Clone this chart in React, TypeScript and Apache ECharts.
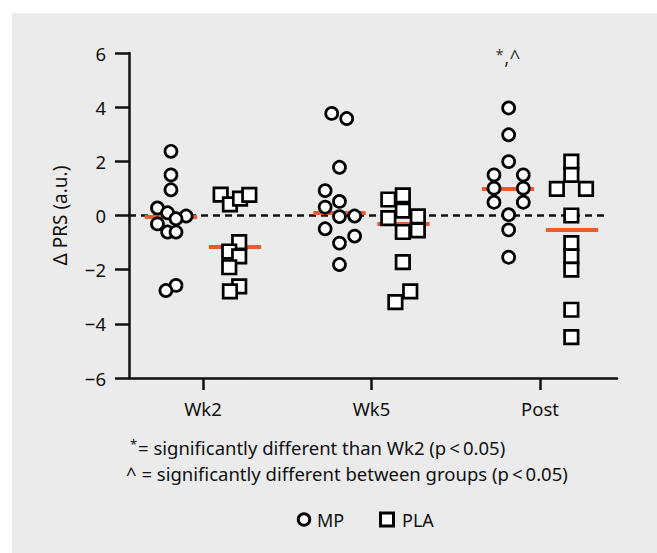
import React, { useEffect, useRef } from "react";
import * as echarts from "echarts";

// ---- data ----
const CATEGORIES = ["Wk2", "Wk5", "Post"];

const MP_WK2 = [2.37, 1.5, 0.95, 0.28, 0.1, -0.02, -0.12, -0.31, -0.61, -0.61, -2.58, -2.77];
const MP_WK2_JITTER = [-0.19, -0.19, -0.19, -0.27, -0.21, -0.1, -0.16, -0.27, -0.21, -0.16, -0.16, -0.22];
const MP_WK5 = [3.77, 3.58, 1.78, 0.92, 0.52, 0.31, -0.04, -0.02, -0.49, -0.76, -1.02, -1.81];
const MP_WK5_JITTER = [-0.236, -0.147, -0.19, -0.275, -0.19, -0.275, -0.19, -0.1, -0.275, -0.1, -0.19, -0.19];
const MP_POST = [3.97, 2.98, 1.99, 1.5, 1.5, 1.01, 1.01, 0.49, 0.49, 0.03, -0.53, -1.54];
const MP_POST_JITTER = [-0.186, -0.186, -0.186, -0.273, -0.099, -0.273, -0.099, -0.273, -0.099, -0.186, -0.186, -0.186];

const PLA_WK2 = [0.77, 0.41, 0.62, 0.76, -0.98, -1.33, -1.51, -1.91, -2.62, -2.8];
const PLA_WK2_JITTER = [0.105, 0.16, 0.22, 0.275, 0.215, 0.156, 0.215, 0.156, 0.215, 0.16];
const PLA_WK5 = [0.59, 0.74, 0.18, -0.1, -0.03, -0.61, -0.55, -1.72, -2.8, -3.2];
const PLA_WK5_JITTER = [0.1, 0.186, 0.186, 0.1, 0.275, 0.186, 0.275, 0.186, 0.23, 0.142];
const PLA_POST = [1.99, 1.5, 0.98, 0.98, 0.0, -1.02, -1.51, -2.0, -3.48, -4.49];
const PLA_POST_JITTER = [0.186, 0.186, 0.1, 0.273, 0.186, 0.186, 0.186, 0.186, 0.186, 0.186];

const MP_MEDIANS = [-0.06, 0.12, 0.98];
const PLA_MEDIANS = [-1.16, -0.31, -0.53];

const Y_TICKS = [-6, -4, -2, 0, 2, 4, 6];

const FOOTNOTES = [
  "= significantly different than Wk2 (p\u2009<\u20090.05)",
  "^ = significantly different between groups (p\u2009<\u20090.05)",
];
const LEGEND = ["MP", "PLA"];

const FONT = "Noto Sans";
const INK = "#111111";
const RED = "#eb5b30";

const MP_GROUPS = [
  [MP_WK2, MP_WK2_JITTER],
  [MP_WK5, MP_WK5_JITTER],
  [MP_POST, MP_POST_JITTER],
];
const PLA_GROUPS = [
  [PLA_WK2, PLA_WK2_JITTER],
  [PLA_WK5, PLA_WK5_JITTER],
  [PLA_POST, PLA_POST_JITTER],
];

function toPoints(groups: number[][][]) {
  const out: number[][] = [];
  groups.forEach(([vals, jit], gi) => {
    vals.forEach((v, i) => out.push([gi + 1 + jit[i], v]));
  });
  return out;
}

export default function App() {
  const ref = useRef<HTMLDivElement>(null);

  useEffect(() => {
    if (!ref.current) return;
    const chart = echarts.init(ref.current, undefined, { renderer: "svg" });

    const medianSegs: any[] = [];
    const HALF = 0.155;
    const OFF = 0.19;
    MP_MEDIANS.forEach((m, i) => {
      const c = i + 1 - OFF;
      medianSegs.push([{ coord: [c - HALF, m] }, { coord: [c + HALF, m] }]);
    });
    PLA_MEDIANS.forEach((m, i) => {
      const c = i + 1 + OFF;
      medianSegs.push([{ coord: [c - HALF, m] }, { coord: [c + HALF, m] }]);
    });

    const markerStyle = { fill: "#ffffff", stroke: "#000000", lineWidth: 3 };

    const option: any = {
      animation: false,
      backgroundColor: "#ffffff",
      textStyle: { fontFamily: FONT, color: INK },
      graphic: [
        {
          type: "rect",
          z: -10,
          silent: true,
          shape: { x: 12, y: 13, width: 657, height: 553 },
          style: { fill: "#ebebeb" },
        },
        {
          type: "text",
          x: 130,
          y: 444,
          style: {
            text: "*",
            font: `13px "${FONT}"`,
            fill: INK,
            verticalAlign: "middle",
          },
        },
        {
          type: "text",
          x: 138,
          y: 447,
          style: {
            text: FOOTNOTES[0],
            font: `18.5px "${FONT}"`,
            fill: INK,
            verticalAlign: "middle",
          },
        },
        {
          type: "text",
          x: 126,
          y: 473,
          style: {
            text: FOOTNOTES[1],
            font: `18.5px "${FONT}"`,
            fill: INK,
            verticalAlign: "middle",
          },
        },
        // legend
        {
          type: "circle",
          shape: { cx: 304, cy: 519.5, r: 5.7 },
          style: markerStyle,
        },
        {
          type: "text",
          x: 317,
          y: 519.5,
          style: { text: LEGEND[0], font: `18px "${FONT}"`, fill: INK, verticalAlign: "middle" },
        },
        {
          type: "rect",
          shape: { x: 380.5, y: 513, width: 13, height: 13 },
          style: markerStyle,
        },
        {
          type: "text",
          x: 402,
          y: 519.5,
          style: { text: LEGEND[1], font: `18px "${FONT}"`, fill: INK, verticalAlign: "middle" },
        },
      ],
      grid: { left: 129, right: 40, top: 53, bottom: 175 },
      xAxis: {
        type: "value",
        min: 0.561,
        max: 3.457,
        splitLine: { show: false },
        axisLine: { show: true, onZero: false, lineStyle: { color: INK, width: 2.5 } },
        axisTick: { show: true, length: 12, customValues: [1, 2, 3], lineStyle: { color: INK, width: 2.5 } },
        axisLabel: {
          customValues: [1, 2, 3],
          margin: 21,
          fontSize: 18.5,
          fontFamily: FONT,
          color: INK,
          formatter: (v: number) => CATEGORIES[Math.round(v) - 1] ?? "",
        },
      },
      yAxis: {
        type: "value",
        min: Y_TICKS[0],
        max: Y_TICKS[Y_TICKS.length - 1],
        interval: 2,
        name: "\u0394 PRS (a.u.)",
        nameLocation: "middle",
        nameRotate: 90,
        nameGap: 60,
        nameTextStyle: { fontFamily: FONT, fontSize: 19, color: INK },
        splitLine: { show: false },
        axisLine: { show: true, lineStyle: { color: INK, width: 2.5 } },
        axisTick: { show: true, length: 14, lineStyle: { color: INK, width: 2.5 } },
        axisLabel: {
          margin: 23,
          fontSize: 18.5,
          fontFamily: FONT,
          color: INK,
          formatter: (v: number) => (v < 0 ? "\u2212" + Math.abs(v) : String(v)),
        },
      },
      series: [
        {
          name: "zero",
          type: "scatter",
          data: [],
          z: 1,
          silent: true,
          markLine: {
            silent: true,
            symbol: "none",
            label: { show: false },
            lineStyle: { color: INK, width: 2.5, type: [7, 5] },
            data: [[{ coord: [0.561, 0] }, { coord: [3.385, 0] }]],
          },
        },
        {
          name: "medians",
          type: "scatter",
          data: [],
          z: 2,
          silent: true,
          markLine: {
            silent: true,
            symbol: "none",
            label: { show: false },
            lineStyle: { color: RED, width: 4, type: "solid" },
            data: medianSegs,
          },
        },
        {
          name: "MP",
          type: "scatter",
          z: 5,
          symbol: "circle",
          symbolSize: 12,
          itemStyle: { color: "#ffffff", borderColor: "#000000", borderWidth: 2.7, opacity: 1 },
          data: toPoints(MP_GROUPS as any),
        },
        {
          name: "PLA",
          type: "scatter",
          z: 5,
          symbol: "rect",
          symbolSize: 13.5,
          itemStyle: { color: "#ffffff", borderColor: "#000000", borderWidth: 2.7, opacity: 1 },
          data: toPoints(PLA_GROUPS as any),
        },
        {
          name: "annot",
          type: "scatter",
          z: 6,
          silent: true,
          symbolSize: 0,
          data: [[3 - 0.19, 5.85]],
          label: {
            show: true,
            position: "inside",
            formatter: "{s|*}{n|,}{c|^}",
            rich: {
              s: { fontSize: 14, fontFamily: FONT, color: "#000", verticalAlign: "top", padding: [0, 1, 5, 0] },
              n: { fontSize: 19, fontFamily: FONT, color: "#000" },
              c: { fontSize: 19, fontFamily: FONT, color: "#000" },
            },
          },
        },
      ],
    };

    chart.setOption(option);
    return () => chart.dispose();
  }, []);

  return (
    <div
      ref={ref}
      style={{ position: "fixed", left: 0, top: 0, width: 657, height: 553 }}
    />
  );
}
